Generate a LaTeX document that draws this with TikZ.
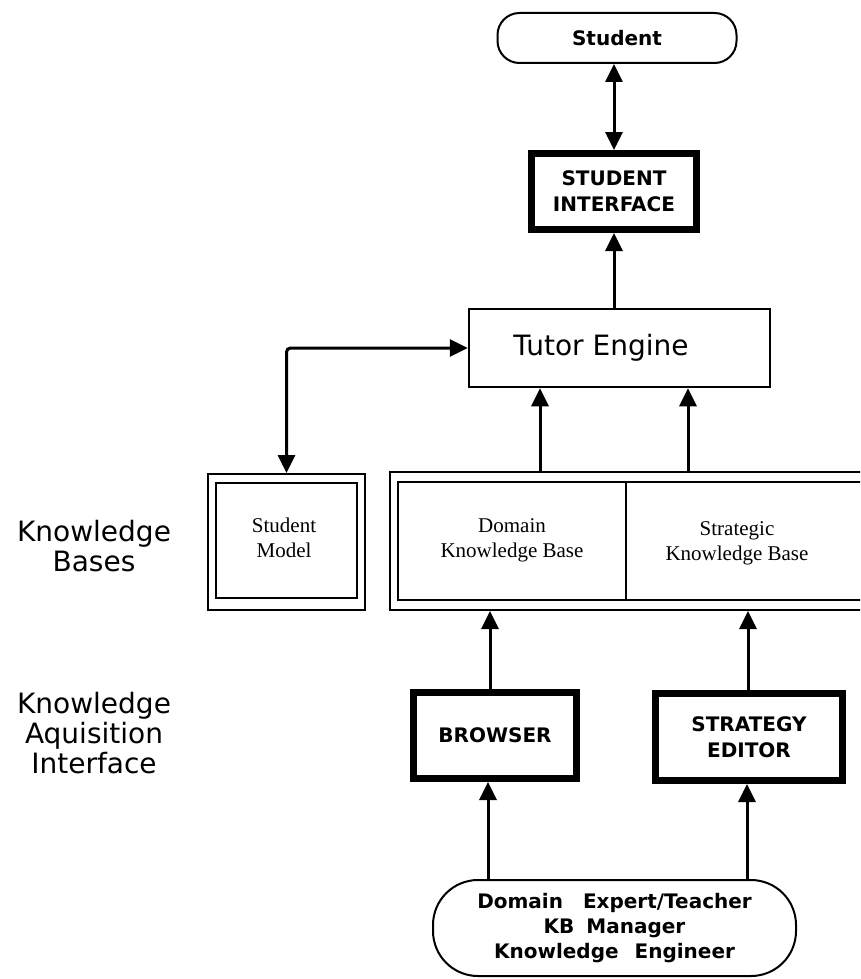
\documentclass[tikz,border=0pt]{standalone}
\usepackage{fontspec}
\setmainfont{DejaVu Sans}
\newfontfamily\kbserif{Liberation Serif}
\usetikzlibrary{arrows.meta}
\begin{document}
\begin{tikzpicture}[x=1pt,y=-1pt,
  thinbox/.style={draw, line width=2pt, inner sep=0pt},
  heavybox/.style={draw, line width=7pt, inner sep=0pt, align=center,
    font=\fontsize{20}{26}\selectfont\bfseries},
  pill/.style={draw, line width=2pt, inner sep=0pt, align=center,
    font=\fontsize{20}{25}\selectfont\bfseries},
  biglabel/.style={align=center, inner sep=0pt,
    font=\fontsize{28}{30}\selectfont},
  kbtext/.style={align=center, inner sep=0pt,
    font=\kbserif\fontsize{21}{25}\selectfont},
  arr/.style={line width=3pt, -{Triangle[length=18pt,width=17pt]}},
  dbl/.style={line width=3pt, {Triangle[length=18pt,width=17pt]}-{Triangle[length=18pt,width=17pt]}},
]
\useasboundingbox (0,0) rectangle (860,979);
\clip (0,0) rectangle (860,979);

% top: the student and the interface
\node[pill, minimum width=239pt, minimum height=50pt, rounded corners=22pt] (stu) at (617,38) {Student};
\node[heavybox, minimum width=165pt, minimum height=76pt] (si) at (614,191.5) {STUDENT\\INTERFACE};

% tutor engine
\node[thinbox, line width=2.5pt, minimum width=301pt, minimum height=78pt] (te) at (619.5,348) {};
\node[biglabel] (tetext) at (601,348) {Tutor Engine};

% knowledge bases row
\node[thinbox, minimum width=157pt, minimum height=136pt] (smo) at (286.5,542) {};
\node[thinbox, minimum width=141pt, minimum height=115pt] (smi) at (286.5,540.5) {};
\node[kbtext] (smt) at (284,538) {Student\\Model};

\node[thinbox, minimum width=490pt, minimum height=138pt] (kbo) at (635,541) {};
\node[thinbox, minimum width=472pt, minimum height=118pt] (kbi) at (634,541) {};
\draw[line width=2pt] (626,482) -- (626,600);
\node[kbtext] (dk) at (512,540) {Domain\\Knowledge Base};
\node[kbtext] (sk) at (737,543) {Strategic\\Knowledge Base};

% side labels
\node[biglabel] (kblabel) at (94,546) {Knowledge\\Bases};
\node[biglabel] (kalabel) at (94,733) {Knowledge\\Aquisition\\Interface};

% knowledge acquisition tools
\node[heavybox, minimum width=163pt, minimum height=86pt] (br) at (495,735.5) {BROWSER};
\node[heavybox, minimum width=187pt, minimum height=87pt] (se) at (749,737) {STRATEGY\\EDITOR};

% people who maintain the knowledge
\node[pill, minimum width=363pt, minimum height=96pt, rounded corners=45pt] (ppl) at (614.5,928)
  {Domain\hspace{20pt}Expert/Teacher\\KB\hspace{12pt}Manager\\Knowledge\hspace{16pt}Engineer};

% connectors
\draw[dbl] (si.north) -- (si.north |- stu.south);
\draw[arr] (si.south |- te.north) -- (si.south);
\draw[dbl, rounded corners=4pt] (te.west) -| (smo.north);

\coordinate (dup) at (540,472);
\coordinate (sup) at (688,472);
\draw[arr] (dup) -- (dup |- te.south);
\draw[arr] (sup) -- (sup |- te.south);

\coordinate (bup) at (490,689);
\coordinate (eup) at (748,690);
\draw[arr] (bup) -- (bup |- kbo.south);
\draw[arr] (eup) -- (eup |- kbo.south);

\coordinate (blo) at (488,880);
\coordinate (elo) at (747,880);
\draw[arr] (blo) -- (blo |- br.south);
\draw[arr] (elo) -- (elo |- se.south);
\end{tikzpicture}
\end{document}
